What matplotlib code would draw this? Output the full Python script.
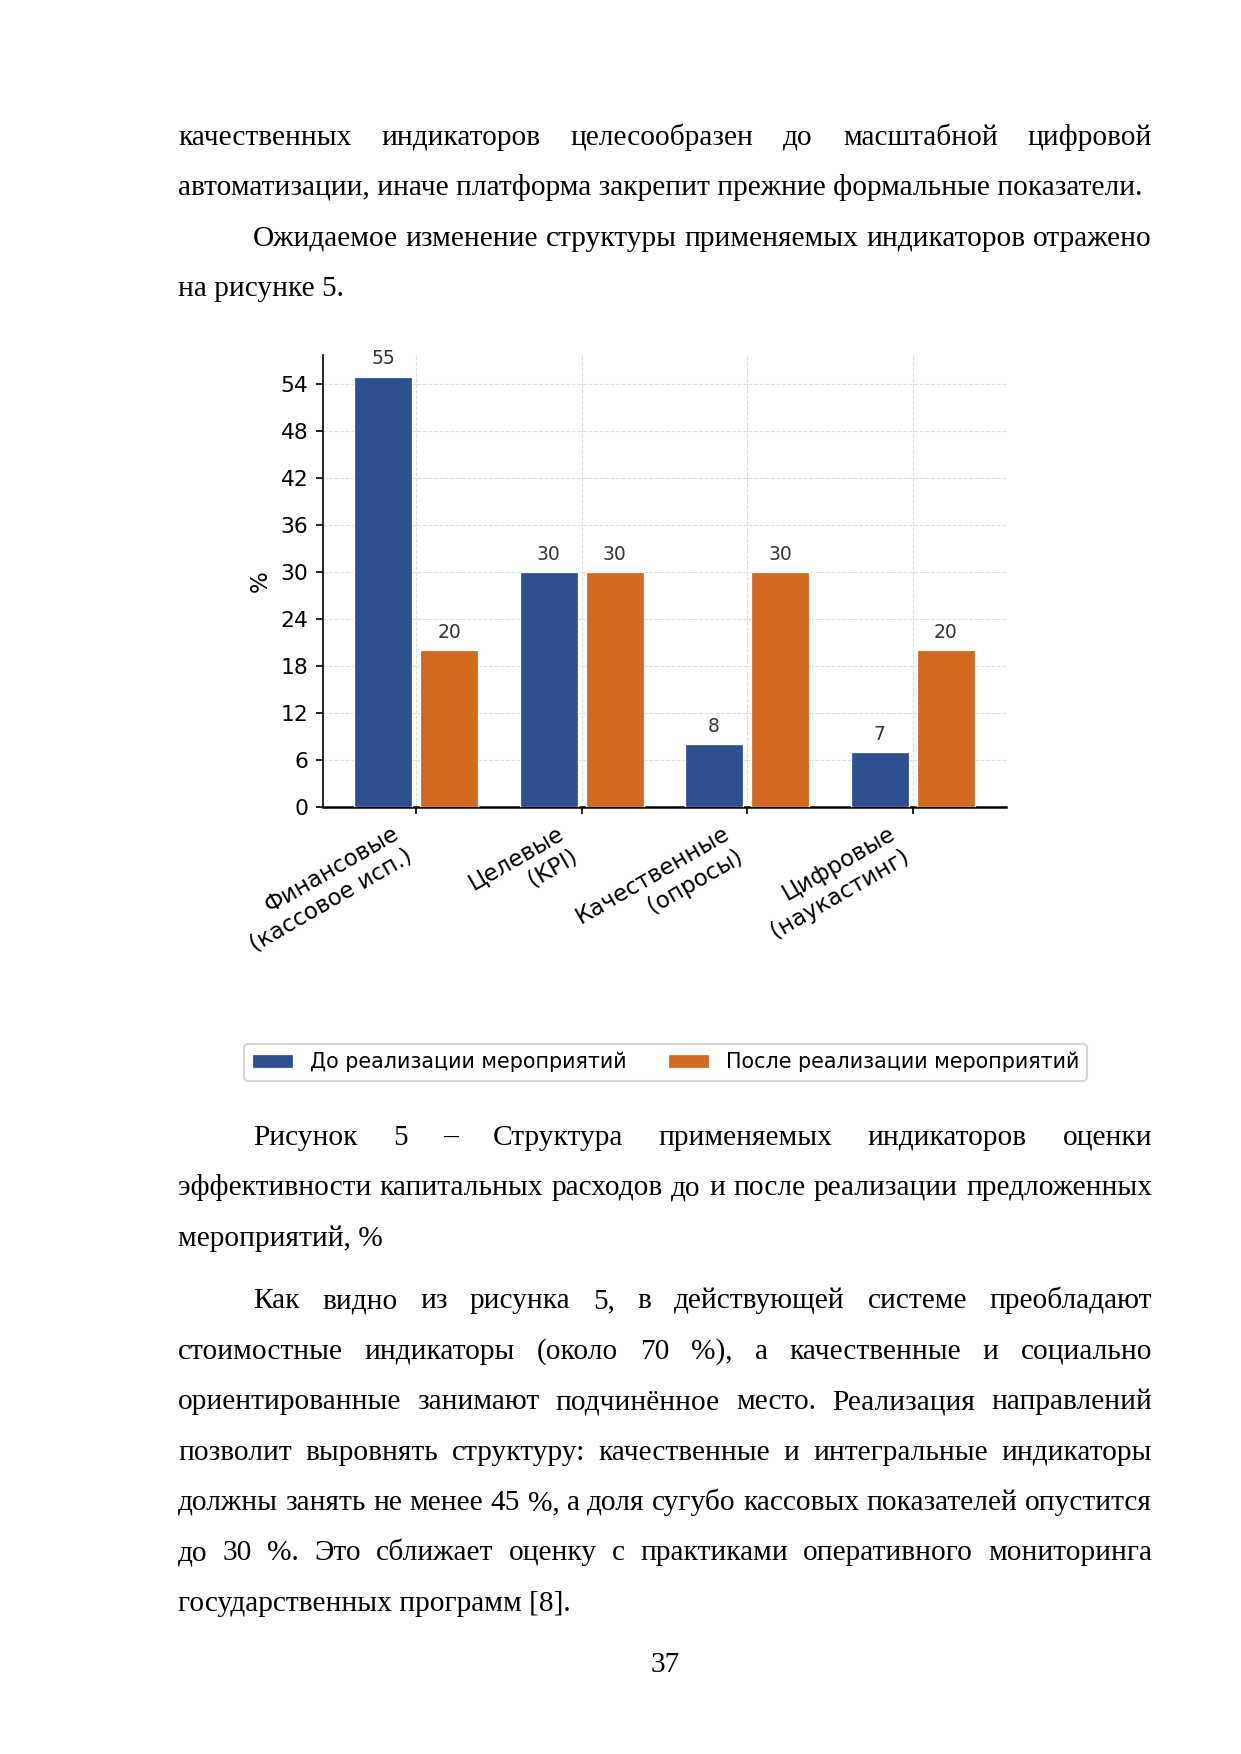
import numpy as np
import matplotlib
matplotlib.use('Agg')
import matplotlib.pyplot as plt

# page geometry (pixels at 150 dpi, A4)
W, H = 1241, 1754
DPI = 150
LEFT, RIGHT, INDENT = 178, 1152, 75

categories = ['Финансовые\n(кассовое исп.)', 'Целевые\n(KPI)',
              'Качественные\n(опросы)', 'Цифровые\n(наукастинг)']
before = [55, 30, 8, 7]
after = [20, 30, 30, 20]
series_names = ['До реализации мероприятий', 'После реализации мероприятий']
yticks = list(range(0, 55, 6))

BLUE = '#2E5090'
ORANGE = '#D2691E'

# (text, justified, indented)
top_lines = [
    ('качественных индикаторов целесообразен до масштабной цифровой', True, False),
    ('автоматизации, иначе платформа закрепит прежние формальные показатели.', False, False),
    ('Ожидаемое изменение структуры применяемых индикаторов отражено', True, True),
    ('на рисунке 5.', False, False),
]
caption_lines = [
    ('Рисунок 5 – Структура применяемых индикаторов оценки', True, True),
    ('эффективности капитальных расходов до и после реализации предложенных', True, False),
    ('мероприятий, %', False, False),
]
bottom_lines = [
    ('Как видно из рисунка 5, в действующей системе преобладают', True, True),
    ('стоимостные индикаторы (около 70 %), а качественные и социально', True, False),
    ('ориентированные занимают подчинённое место. Реализация направлений', True, False),
    ('позволит выровнять структуру: качественные и интегральные индикаторы', True, False),
    ('должны занять не менее 45 %, а доля сугубо кассовых показателей опустится', True, False),
    ('до 30 %. Это сближает оценку с практиками оперативного мониторинга', True, False),
    ('государственных программ [8].', False, False),
]

fig = plt.figure(figsize=(W / DPI, H / DPI), dpi=DPI)
renderer = fig.canvas.get_renderer()
body = dict(family='Liberation Serif', fontsize=14.1, va='baseline', color='black')


def fx(x):
    return x / W


def fy(y):
    return 1 - y / H


def put_line(s, y, justify, indent):
    x0 = LEFT + (INDENT if indent else 0)
    if not justify:
        fig.text(fx(x0), fy(y), s, **body)
        return
    words = s.split(' ')
    texts = [fig.text(0, fy(y), w, **body) for w in words]
    widths = [t.get_window_extent(renderer).width for t in texts]
    gap = (RIGHT - x0 - sum(widths)) / (len(words) - 1)
    x = x0
    for t, w in zip(texts, widths):
        t.set_x(fx(x))
        x += w + gap


def put_block(lines, y0, step=50.3):
    for i, (s, j, ind) in enumerate(lines):
        put_line(s, y0 + i * step, j, ind)


put_block(top_lines, 145)
put_block(caption_lines, 1145)
put_block(bottom_lines, 1308.5, 50.35)
fig.text(fx(665), fy(1672), '37', ha='center', **body)

# chart
ax = fig.add_axes([fx(323), fy(807), fx(1006 - 323), (807 - 355) / H])
x = np.arange(len(categories))
b1 = ax.bar(x - 0.2, before, 0.35, color=BLUE, edgecolor='white', linewidth=0.6,
            label=series_names[0], zorder=3)
b2 = ax.bar(x + 0.2, after, 0.35, color=ORANGE, edgecolor='white', linewidth=0.6,
            label=series_names[1], zorder=3)
ax.bar_label(b1, padding=4, fontsize=9, color='#333333')
ax.bar_label(b2, padding=4, fontsize=9, color='#333333')

ax.set_ylim(0, max(before) * 1.05)
ax.set_yticks(yticks)
ax.set_xticks(x)
ax.set_xticklabels(categories, rotation=30, ha='right', fontsize=11)
ax.tick_params(axis='y', labelsize=10.5)
ax.set_ylabel('%', fontsize=11)
ax.grid(True, linestyle='--', linewidth=0.5, color='#dddddd')
ax.set_axisbelow(True)
ax.spines['top'].set_visible(False)
ax.spines['right'].set_visible(False)
ax.spines['bottom'].set_linewidth(1.2)

fig.legend(handles=[b1, b2], labels=series_names, loc='center',
           bbox_to_anchor=(fx(665.5), fy(1062)), ncol=2, fontsize=9.9,
           frameon=True, edgecolor='#cccccc', fancybox=True)

fig.savefig('out.png', dpi=DPI)
